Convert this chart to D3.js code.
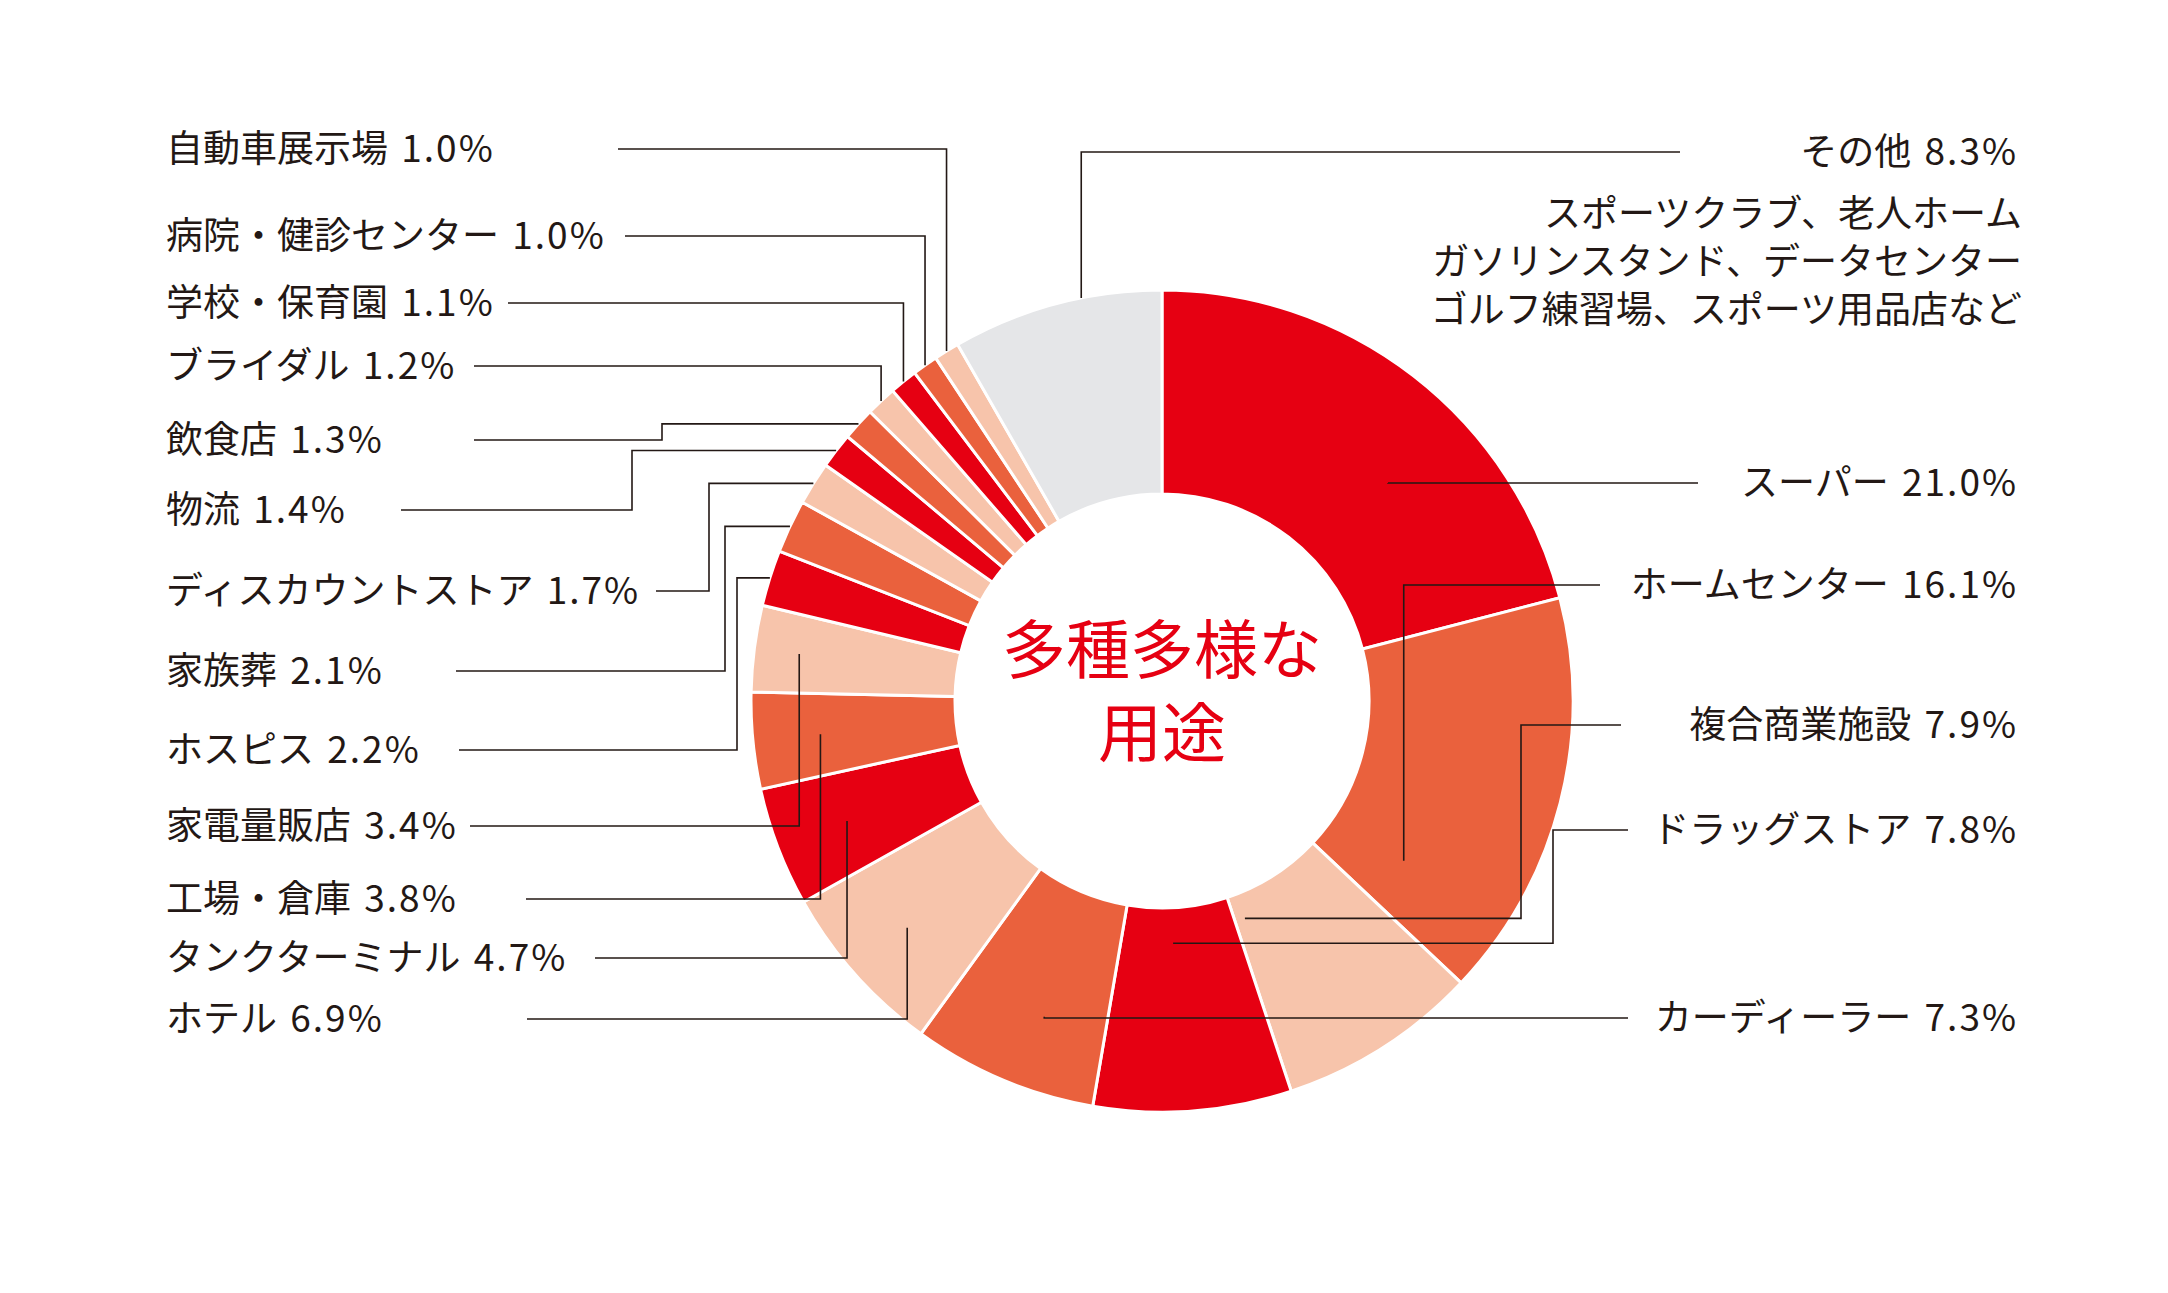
<!DOCTYPE html>
<html>
<head>
<meta charset="utf-8">
<script src="https://cdn.jsdelivr.net/npm/d3@7"></script>
<style>
  html, body { margin: 0; padding: 0; background: #fff; }
  svg text { font-family: "Noto Sans CJK JP", "Noto Sans", sans-serif; fill: #231815; }
</style>
</head>
<body>
<svg id="chart"></svg>
<script>
// slices, clockwise from 12 o'clock
var categories = [
    'スーパー', 'ホームセンター', '複合商業施設', 'ドラッグストア', 'カーディーラー',
    'ホテル', 'タンクターミナル', '工場・倉庫', '家電量販店', 'ホスピス',
    '家族葬', 'ディスカウントストア', '物流', '飲食店', 'ブライダル',
    '学校・保育園', '病院・健診センター', '自動車展示場', 'その他'
];
var values = [21.0, 16.1, 7.9, 7.8, 7.3, 6.9, 4.7, 3.8, 3.4, 2.2,
              2.1, 1.7, 1.4, 1.3, 1.2, 1.1, 1.0, 1.0, 8.3];
var otherNote = [
    'スポーツクラブ、老人ホーム',
    'ガソリンスタンド、データセンター',
    'ゴルフ練習場、スポーツ用品店など'
];
var centerTitle = ['多種多様な', '用途'];
var palette = ['#e60012', '#ea613d', '#f7c4ab'];
var otherColor = '#e5e6e8';

// label layout (one entry per slice, same order)
var side      = ['r','r','r','r','r','l','l','l','l','l','l','l','l','l','l','l','l','l','r'];
var labelY    = [483, 585, 725, 830, 1018, 1019, 958, 899, 826, 750, 671, 591, 510, 440, 366, 303, 236, 149, 152];
var lineFrom  = [1698, 1600, 1621, 1628, 1628, 527, 595, 526, 470, 459, 456, 656, 401, 474, 474, 508, 625, 618, 1680];
var elbowX    = [null, null, 1521, 1553, null, null, null, null, null, 737, 725, 709, 632, 662, null, null, null, null, null];
var endAngle  = [0.61, 0.83, 0.91, 0.56, 0.41, 0.5, 0.5, 0.5, 0.5, 0.5, 0.5, 0.5, 0.5, 0.5, 0.5, 0.5, 0.5, 0.5, 0.62];
var endRadius = [0.764, 0.705, 0.566, 0.59, 0.82, 0.83, 0.82, 0.835, 0.89, 1.0, 1.0, 1.0, 1.0, 1.0, 1.0, 1.0, 1.0, 1.0, 1.0];

var width = 2168, height = 1293;
var cx = 1162, cy = 701, R = 411, r0 = 207;
var leftX = 166, rightX = 2018;
var fontSize = 37;

var svg = d3.select('#chart')
    .attr('width', width)
    .attr('height', height);

var data = categories.map(function(c, i) { return { name: c, value: values[i], i: i }; });

var pie = d3.pie()
    .sort(null)
    .value(function(d) { return d.value; });
var arcs = pie(data);

var arc = d3.arc()
    .innerRadius(r0)
    .outerRadius(R);

var g = svg.append('g')
    .attr('transform', 'translate(' + cx + ',' + cy + ')');

g.selectAll('path.slice')
    .data(arcs)
    .enter()
    .append('path')
    .attr('class', 'slice')
    .attr('d', arc)
    .attr('fill', function(d, i) {
        return i === categories.length - 1 ? otherColor : palette[i % 3];
    })
    .attr('stroke', '#fff')
    .attr('stroke-width', 3)
    .attr('stroke-linejoin', 'miter');

// leader lines
function endPoint(a, i) {
    var ang = a.startAngle + (a.endAngle - a.startAngle) * endAngle[i];
    var rr = R * endRadius[i];
    return [cx + rr * Math.sin(ang), cy - rr * Math.cos(ang)];
}

svg.selectAll('path.leader')
    .data(arcs)
    .enter()
    .append('path')
    .attr('class', 'leader')
    .attr('fill', 'none')
    .attr('stroke', '#231815')
    .attr('stroke-width', 1.6)
    .attr('d', function(a, i) {
        var p = endPoint(a, i);
        var ex = elbowX[i] === null ? p[0] : elbowX[i];
        var path = d3.path();
        path.moveTo(lineFrom[i], labelY[i]);
        path.lineTo(ex, labelY[i]);
        path.lineTo(ex, p[1]);
        path.lineTo(p[0], p[1]);
        return path.toString();
    });

// labels: name + percentage (digits set a bit looser, like the original)
var labels = svg.selectAll('text.label')
    .data(data)
    .enter()
    .append('text')
    .attr('class', 'label')
    .attr('x', function(d) { return side[d.i] === 'l' ? leftX : rightX; })
    .attr('y', function(d) { return labelY[d.i]; })
    .attr('dy', '0.36em')
    .attr('text-anchor', function(d) { return side[d.i] === 'l' ? 'start' : 'end'; })
    .style('font-size', fontSize + 'px');
labels.append('tspan')
    .text(function(d) { return d.name + ' '; });
labels.append('tspan')
    .attr('dx', 5)
    .style('letter-spacing', '2px')
    .text(function(d) { return d.value.toFixed(1) + '%'; });

svg.selectAll('text.note')
    .data(otherNote)
    .enter()
    .append('text')
    .attr('class', 'note')
    .attr('x', rightX + 4)
    .attr('y', function(d, i) { return 214 + i * 48; })
    .attr('dy', '0.36em')
    .attr('text-anchor', 'end')
    .style('font-size', fontSize + 'px')
    .text(function(d) { return d; });

// centre title
svg.selectAll('text.title')
    .data(centerTitle)
    .enter()
    .append('text')
    .attr('class', 'title')
    .attr('x', cx)
    .attr('y', function(d, i) { return 650 + i * 83; })
    .attr('dy', '0.36em')
    .attr('text-anchor', 'middle')
    .style('font-size', '64px')
    .style('fill', '#e60012')
    .text(function(d) { return d; });
</script>
</body>
</html>
